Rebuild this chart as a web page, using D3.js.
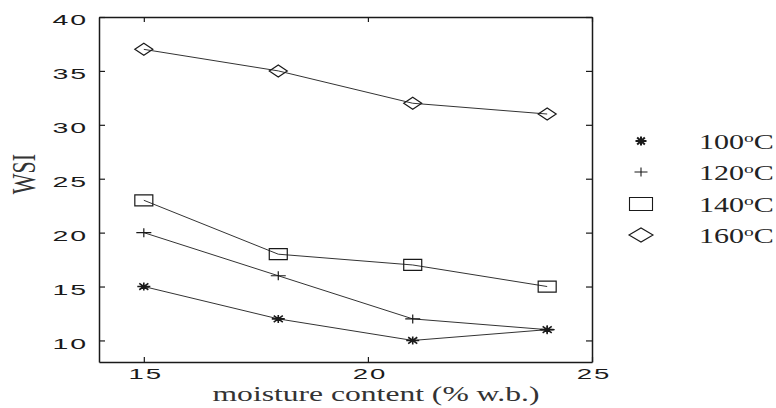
<!DOCTYPE html>
<html><head><meta charset="utf-8">
<script src="https://cdn.jsdelivr.net/npm/d3@7"></script>
<style>html,body{margin:0;padding:0;background:#fff;}svg{display:block;}</style>
</head><body>
<svg id="c" width="776" height="408"></svg>
<script>
const moisture = [15, 18, 21, 24];
const temps = ["100", "120", "140", "160"];
const wsi100 = [15, 12, 10, 11];
const wsi120 = [20, 16, 12, 11];
const wsi140 = [23, 18, 17, 15];
const wsi160 = [37, 35, 32, 31];
const xTicks = [15, 20, 25];
const yTicks = [10, 15, 20, 25, 30, 35, 40];
const markers = ["star", "plus", "square", "diamond"];
const seriesValues = [wsi100, wsi120, wsi140, wsi160];

const svg = d3.select("#c");
const x = d3.scaleLinear().domain([14, 25]).range([99, 592]);
const y = d3.scaleLinear().domain([8, 40]).range([362, 17]);
const ink = "#1a1a1a";

function markPath(type, w, h) {
  const a = w / 2, b = h / 2;
  const p = d3.path();
  if (type === "star") {
    p.moveTo(-a, 0); p.lineTo(a, 0);
    p.moveTo(0, -b); p.lineTo(0, b);
    p.moveTo(-a * 0.7, -b * 0.8); p.lineTo(a * 0.7, b * 0.8);
    p.moveTo(-a * 0.7, b * 0.8); p.lineTo(a * 0.7, -b * 0.8);
  } else if (type === "plus") {
    p.moveTo(-a, 0); p.lineTo(a, 0);
    p.moveTo(0, -b); p.lineTo(0, b);
  } else if (type === "square") {
    p.rect(-a, -b, w, h);
  } else {
    p.moveTo(-a, 0); p.lineTo(0, -b); p.lineTo(a, 0); p.lineTo(0, b); p.closePath();
  }
  return p.toString();
}
const plotSize = {star: [13, 8], plus: [15, 9], square: [18, 11], diamond: [18, 12]};
const legSize = {star: [11, 9], plus: [13, 9], square: [23, 13], diamond: [24, 14]};

// frame + inward ticks
const gB = svg.append("g").attr("transform", `translate(0,${y(8)})`)
  .call(d3.axisBottom(x).tickValues(xTicks).tickSize(-5).tickSizeOuter(0).tickFormat(""));
const gT = svg.append("g").attr("transform", `translate(0,${y(40)})`)
  .call(d3.axisTop(x).tickValues(xTicks).tickSize(-5).tickSizeOuter(0).tickFormat(""));
const gL = svg.append("g").attr("transform", `translate(${x(14)},0)`)
  .call(d3.axisLeft(y).tickValues(yTicks).tickSize(-6).tickSizeOuter(0).tickFormat(""));
const gR = svg.append("g").attr("transform", `translate(${x(25)},0)`)
  .call(d3.axisRight(y).tickValues(yTicks).tickSize(-6).tickSizeOuter(0).tickFormat(""));
[gB, gT, gL, gR].forEach(g => {
  g.selectAll("path.domain").attr("stroke", ink).attr("stroke-width", 1.5);
  g.selectAll("line").attr("stroke", ink).attr("stroke-width", 1.2);
});

// tick labels (stretched sans)
svg.append("g").selectAll("text").data(yTicks).join("text")
  .attr("transform", d => `translate(88,${y(d) + 3}) scale(1.9,1)`)
  .attr("text-anchor", "end").attr("dominant-baseline", "central")
  .attr("font-family", "Liberation Sans").attr("font-size", 15).attr("letter-spacing", 1)
  .attr("fill", ink).text(d => d);
svg.append("g").selectAll("text").data(xTicks).join("text")
  .attr("transform", d => `translate(${x(d) + 2},379) scale(1.9,1)`)
  .attr("text-anchor", "middle")
  .attr("font-family", "Liberation Sans").attr("font-size", 14.5).attr("letter-spacing", 1)
  .attr("fill", ink).text(d => d);

// axis titles
svg.append("text").attr("transform", "translate(376,401) scale(1.58,1)")
  .attr("text-anchor", "middle").attr("font-family", "Liberation Serif").attr("font-size", 20)
  .attr("fill", "#333").text("moisture content (% w.b.)");
svg.append("text").attr("transform", "translate(35,174) scale(1.5,1) rotate(-90)")
  .attr("text-anchor", "middle").attr("font-family", "Liberation Serif").attr("font-size", 22)
  .attr("fill", "#333").text("WSI");

// series
const line = d3.line().x((d, i) => x(moisture[i])).y(d => y(d));
seriesValues.forEach((vals, k) => {
  svg.append("path").datum(vals).attr("d", line)
    .attr("fill", "none").attr("stroke", "#333").attr("stroke-width", 1);
  const sz = plotSize[markers[k]];
  svg.append("g").selectAll("path").data(vals).join("path")
    .attr("transform", (d, i) => `translate(${x(moisture[i])},${y(d)})`)
    .attr("d", markPath(markers[k], sz[0], sz[1]))
    .attr("fill", "none").attr("stroke", ink).attr("stroke-width", markers[k] === "star" ? 1.6 : 1.2);
});

// legend
const legY = [149, 180, 212, 243];
temps.forEach((t, k) => {
  const sz = legSize[markers[k]];
  svg.append("path").attr("transform", `translate(641,${legY[k] - 8})`)
    .attr("d", markPath(markers[k], sz[0], sz[1]))
    .attr("fill", "none").attr("stroke", ink).attr("stroke-width", markers[k] === "star" ? 2 : 1.1);
  const tx = svg.append("text").attr("transform", `translate(699,${legY[k]}) scale(1.5,1)`)
    .attr("font-family", "Liberation Serif").attr("font-size", 20).attr("fill", "#222");
  tx.append("tspan").text(t);
  tx.append("tspan").attr("font-size", 13).attr("dy", -7).text("o");
  tx.append("tspan").attr("dy", 7).text("C");
});
</script>
</body></html>
